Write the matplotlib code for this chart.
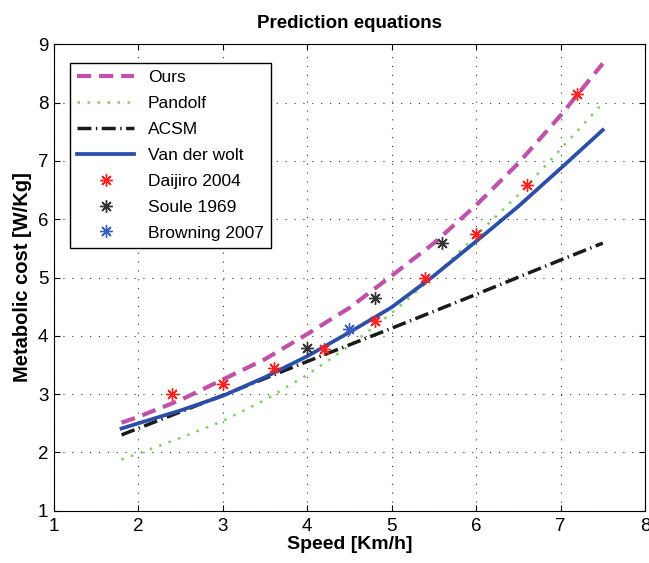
import matplotlib
matplotlib.use('Agg')
import matplotlib.pyplot as plt
import numpy as np

plt.rcParams['font.family'] = ['Liberation Sans', 'DejaVu Sans']

# curve data
speed = [1.8, 2.0, 2.5, 3.0, 3.5, 4.0, 4.5, 5.0, 5.5, 6.0, 6.5, 7.0, 7.5]
ours = [2.51, 2.61, 2.9, 3.25, 3.6, 4.03, 4.48, 5.03, 5.59, 6.24, 6.96, 7.78, 8.67]
pandolf = [1.88, 1.98, 2.25, 2.54, 2.9, 3.33, 3.83, 4.39, 5.02, 5.72, 6.42, 7.2, 7.99]
vanderwolt = [2.41, 2.5, 2.72, 2.97, 3.29, 3.65, 4.06, 4.49, 5.03, 5.62, 6.22, 6.87, 7.53]
acsm_speed = [1.8, 3.0, 4.0, 5.0, 6.0, 7.0, 7.5]
acsm = [2.3, 2.98, 3.56, 4.13, 4.71, 5.3, 5.59]

# measured points
daijiro_x = [2.4, 3.0, 3.6, 4.2, 4.8, 5.4, 6.0, 6.6, 7.2]
daijiro_y = [3.0, 3.17, 3.44, 3.77, 4.26, 5.0, 5.74, 6.58, 8.14]
soule_x = [4.0, 4.8, 5.6]
soule_y = [3.79, 4.64, 5.6]
browning_x = [4.5]
browning_y = [4.12]

fig = plt.figure(figsize=(6.49, 5.63), dpi=100)
ax = fig.add_axes([0.0832, 0.0929, 0.9106, 0.8284])

ax.plot(speed, ours, color='#c050a8', lw=3, dashes=(3.4, 1.9), label='Ours')
ax.plot(speed, pandolf, color='#7fcf5f', lw=1.8, dashes=(1, 3), label='Pandolf')
ax.plot(acsm_speed, acsm, color='#1a1a1a', lw=2.5, dashes=(4, 1.3, 0.4, 1.3), label='ACSM')
ax.plot(speed, vanderwolt, '-', color='#2b4fa8', lw=2.7, label='Van der wolt')
star = (8, 2, 0)
ax.plot(daijiro_x, daijiro_y, ls='none', color='#ff2020', ms=9,
        marker=star, mew=1, label='Daijiro 2004')
ax.plot(soule_x, soule_y, ls='none', color='#333333', ms=9,
        marker=star, mew=1, label='Soule 1969')
ax.plot(browning_x, browning_y, ls='none', color='#3a5fbf', ms=9,
        marker=star, mew=1, label='Browning 2007')

ax.set_xlim(1, 8)
ax.set_ylim(1, 9)
ax.set_xticks(np.arange(1, 9))
ax.set_yticks(np.arange(1, 10))
ax.grid(True, ls=(0, (1, 7)), color='#333333', lw=0.8)
ax.tick_params(direction='in', top=True, right=True, labelsize=13.5, length=4, pad=5)
ax.tick_params(axis='y', pad=4)

ax.set_title('Prediction equations', fontsize=13.5, fontweight='bold', pad=12)
ax.set_xlabel('Speed [Km/h]', fontsize=14, fontweight='bold', labelpad=1)
ax.set_ylabel('Metabolic cost [W/Kg]', fontsize=14.5, fontweight='bold', labelpad=4)

leg = ax.legend(loc='upper left', fontsize=12.5, fancybox=False, framealpha=1,
                edgecolor='black', handlelength=3.3, labelspacing=0.62,
                borderaxespad=0, bbox_to_anchor=(0.027, 0.96))
leg.get_frame().set_linewidth(1)

plt.savefig('out.png', dpi=100)
